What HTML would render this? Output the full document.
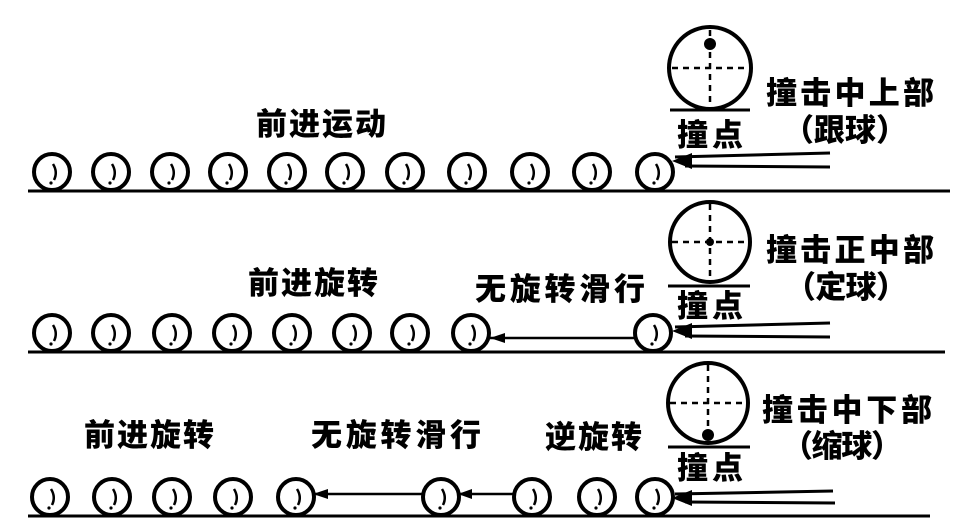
<!DOCTYPE html>
<html><head><meta charset="utf-8"><style>
html,body{margin:0;padding:0;background:#fff;width:980px;height:532px;overflow:hidden}
svg{display:block}
text{font-family:"Noto Sans CJK SC","WenQuanYi Zen Hei",sans-serif;font-weight:900;fill:#000}
</style></head><body>
<svg width="980" height="532" viewBox="0 0 980 532" xmlns="http://www.w3.org/2000/svg">
<defs>
<g id="b"><circle r="18" fill="none" stroke="#000" stroke-width="4"/><path d="M1,-8 Q6,0 2,8" fill="none" stroke="#000" stroke-width="2.5"/><circle cx="-1" cy="11" r="1.6" fill="#000"/></g>
</defs>
<g stroke="#000" fill="none">
<line x1="28" y1="191" x2="950" y2="191" stroke-width="3"/>
<circle cx="710" cy="68" r="41" stroke-width="4"/>
<line x1="670" y1="110" x2="750" y2="110" stroke-width="3"/>
<line x1="672" y1="68" x2="748" y2="68" stroke-width="2.5" stroke-dasharray="6,5"/>
<line x1="710" y1="30" x2="710" y2="108" stroke-width="2.5" stroke-dasharray="6,5"/>
<line x1="675" y1="157" x2="830" y2="153" stroke-width="3"/>
<line x1="685" y1="166" x2="830" y2="167" stroke-width="3"/>
<line x1="28" y1="352" x2="945" y2="352" stroke-width="3"/>
<line x1="490" y1="338" x2="635" y2="338" stroke-width="2.5"/>
<circle cx="710" cy="242" r="40" stroke-width="4"/>
<line x1="668" y1="286" x2="750" y2="286" stroke-width="3"/>
<line x1="672" y1="242" x2="748" y2="242" stroke-width="2.5" stroke-dasharray="6,5"/>
<line x1="710" y1="204" x2="710" y2="282" stroke-width="2.5" stroke-dasharray="6,5"/>
<line x1="675" y1="327" x2="830" y2="323" stroke-width="3"/>
<line x1="685" y1="336" x2="830" y2="337" stroke-width="3"/>
<line x1="28" y1="516" x2="930" y2="516" stroke-width="3"/>
<line x1="313" y1="494" x2="423" y2="494" stroke-width="2.5"/>
<line x1="458" y1="494" x2="515" y2="494" stroke-width="2.5"/>
<circle cx="708" cy="403" r="40" stroke-width="4"/>
<line x1="668" y1="447" x2="750" y2="447" stroke-width="3"/>
<line x1="670" y1="403" x2="746" y2="403" stroke-width="2.5" stroke-dasharray="6,5"/>
<line x1="708" y1="365" x2="708" y2="436" stroke-width="2.5" stroke-dasharray="6,5"/>
<line x1="675" y1="494" x2="833" y2="491" stroke-width="3"/>
<line x1="685" y1="502" x2="835" y2="503" stroke-width="3"/>
</g>
<use href="#b" x="52" y="172"/><use href="#b" x="111" y="172"/><use href="#b" x="170" y="172"/>
<use href="#b" x="228" y="172"/><use href="#b" x="287" y="172"/><use href="#b" x="345" y="172"/>
<use href="#b" x="405" y="172"/><use href="#b" x="467" y="172"/><use href="#b" x="530" y="172"/>
<use href="#b" x="592" y="172"/><use href="#b" x="655" y="172"/>
<use href="#b" x="52" y="333"/><use href="#b" x="111" y="333"/><use href="#b" x="172" y="333"/>
<use href="#b" x="232" y="333"/><use href="#b" x="292" y="333"/><use href="#b" x="352" y="333"/>
<use href="#b" x="410" y="333"/><use href="#b" x="471" y="333"/><use href="#b" x="653" y="333"/>
<use href="#b" x="50" y="497"/><use href="#b" x="112" y="497"/><use href="#b" x="172" y="497"/>
<use href="#b" x="233" y="497"/><use href="#b" x="296" y="497"/><use href="#b" x="441" y="497"/>
<use href="#b" x="532" y="497"/><use href="#b" x="597" y="497"/><use href="#b" x="655" y="497"/>
<g fill="#000">
<circle cx="710" cy="44" r="6"/>
<circle cx="710" cy="242" r="4"/>
<circle cx="708" cy="435" r="6"/>
<polygon points="490,338 505,333 505,343"/>
<polygon points="313,494 328,489 328,499"/>
<polygon points="458,494 472,489 472,499"/>
<polygon points="672,161 692,153 692,169"/>
<polygon points="672,331 692,323 692,339"/>
<polygon points="672,498 692,490 692,506"/>
</g>
<g font-size="31">
<text x="256" y="135" textLength="130">前进运动</text>
<text x="677" y="146" textLength="66">撞点</text>
<text x="766" y="104" textLength="168">撞击中上部</text>
<text x="783" y="141" textLength="124">（跟球）</text>
<text x="248" y="294" textLength="130">前进旋转</text>
<text x="475" y="300" textLength="170">无旋转滑行</text>
<text x="677" y="317" textLength="66">撞点</text>
<text x="766" y="261" textLength="168">撞击正中部</text>
<text x="785" y="298" textLength="122">（定球）</text>
<text x="84" y="446" textLength="130">前进旋转</text>
<text x="311" y="446" textLength="170">无旋转滑行</text>
<text x="545" y="448" textLength="97">逆旋转</text>
<text x="677" y="479" textLength="66">撞点</text>
<text x="762" y="421" textLength="170">撞击中下部</text>
<text x="782" y="457" textLength="120">（缩球）</text>
</g>
</svg>
</body></html>
